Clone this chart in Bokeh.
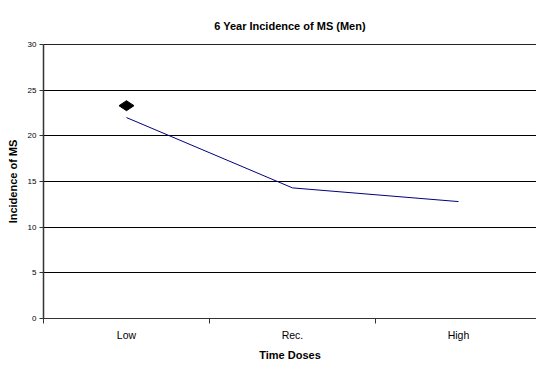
import math
from bokeh.plotting import figure
from bokeh.models import Range1d, FixedTicker, LinearAxis
from bokeh.embed import file_html
from bokeh.resources import INLINE

title_text = "6 Year Incidence of MS (Men)"
categories = ["Low", "Rec.", "High"]
incidence = [22.0, 14.3, 12.8]
marker_cat = ["Low"]
marker_val = [23.3]
y_ticks = [0, 5, 10, 15, 20, 25, 30]

xs = [categories.index(c) + 0.5 for c in categories]
mx = [categories.index(c) + 0.5 for c in marker_cat]

p = figure(width=536, height=366, output_backend="svg", toolbar_location=None,
           x_range=Range1d(0, 2.97), y_range=Range1d(0, 30),
           min_border_left=43, min_border_right=0, min_border_top=44, min_border_bottom=48)
p.outline_line_color = None
p.background_fill_color = "white"
p.border_fill_color = "white"

p.title.text = title_text
p.title.align = "center"
p.title.vertical_align = "top"
p.title.text_font = "Liberation Sans"
p.title.text_font_size = "11px"
p.title.text_font_style = "bold"
p.title.text_color = "black"
p.title.offset = -22
p.title.standoff = 22

xa = p.below[0]
ya = p.left[0]

top_axis = LinearAxis(ticker=FixedTicker(ticks=[]), major_label_text_font_size="0px",
                      major_tick_out=0, major_tick_in=0, minor_tick_out=0, minor_tick_in=0,
                      major_tick_line_color=None, major_label_standoff=0,
                      axis_line_color="#222222")
p.add_layout(top_axis, "above")

p.line(xs, incidence, line_color="#000080", line_width=1)
p.scatter(mx, marker_val, marker="diamond", size=15, angle=math.pi / 2,
          fill_color="black", line_color="black")

xa.ticker = FixedTicker(ticks=xs, minor_ticks=[0, 1, 2, 3])
xa.major_label_overrides = {x: c for x, c in zip(xs, categories)}
xa.major_tick_out = 0
xa.major_tick_in = 0
xa.minor_tick_out = 5
xa.minor_tick_in = 0
xa.minor_tick_line_color = "#333333"
xa.axis_line_color = "#333333"
xa.major_label_text_font = "Liberation Sans"
xa.major_label_text_font_size = "10.5px"
xa.major_label_text_color = "black"
xa.major_label_standoff = 5
xa.axis_label = "Time Doses"
xa.axis_label_text_font = "Liberation Sans"
xa.axis_label_text_font_size = "11px"
xa.axis_label_text_font_style = "bold"
xa.axis_label_text_color = "black"
xa.axis_label_standoff = 5

ya.ticker = FixedTicker(ticks=y_ticks, minor_ticks=[])
ya.major_tick_out = 4
ya.major_tick_in = 0
ya.major_tick_line_color = "#333333"
ya.axis_line_color = "#333333"
ya.axis_line_width = 1.5
ya.major_label_text_font = "Liberation Sans"
ya.major_label_text_font_size = "8px"
ya.major_label_text_color = "black"
ya.major_label_standoff = 3
ya.axis_label = "Incidence of MS"
ya.axis_label_text_font = "Liberation Sans"
ya.axis_label_text_font_size = "11px"
ya.axis_label_text_font_style = "bold"
ya.axis_label_text_color = "black"
ya.axis_label_standoff = 6

p.xgrid.grid_line_color = None
p.ygrid.ticker = FixedTicker(ticks=y_ticks)
p.ygrid.grid_line_color = "black"
p.ygrid.grid_line_width = 1

open("out.html", "w").write(file_html(p, INLINE))
